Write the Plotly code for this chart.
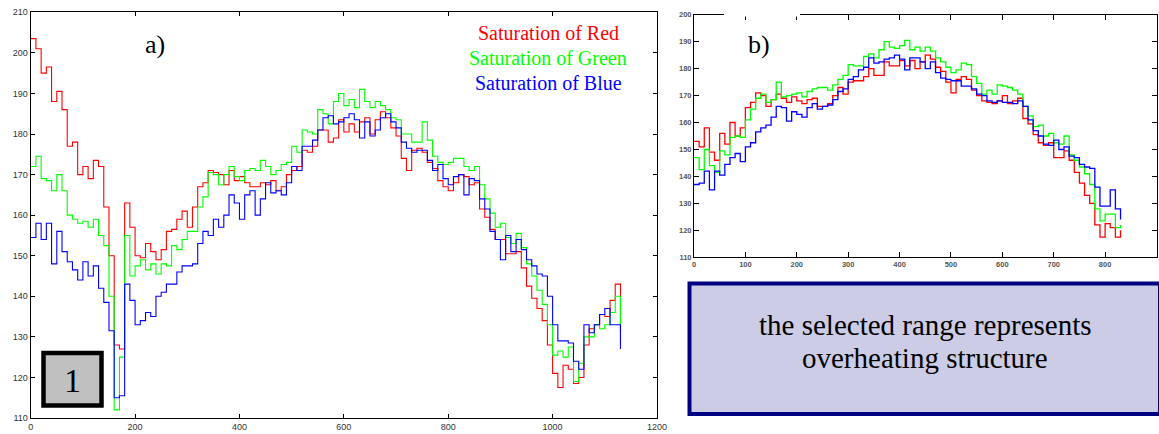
import plotly.graph_objects as go

W, H = 1159, 434

# ---------------- data: chart a) (sampled every 10 units) ----------------
a_x = list(range(0, 1140, 10))
a_red = [203.5, 201, 195, 196.5, 188, 190.5, 186, 177, 178, 170,
         172, 169, 173.5, 172, 162, 150, 128, 127, 163, 157,
         150, 149.5, 153, 151, 149, 151.5, 156, 156.5, 159, 161,
         157, 162, 167, 168, 171, 170.5, 170, 167.5, 171, 168.5,
         169.5, 168, 167, 167, 168, 167.5, 168.5, 166, 167, 170,
         171, 172, 176, 175.5, 177, 181, 181, 178, 179, 183.5,
         180.5, 182.5, 180.5, 183, 184, 180, 183.5, 185.5, 184, 181.5,
         179.5, 174, 171, 176, 176.5, 175.5, 173, 171.5, 168.5, 167,
         166, 168, 170, 169.5, 167.5, 168, 161.5, 159.5, 156.5, 154,
         154, 150.5, 150.5, 151, 147, 142.5, 139.5, 137, 134, 128,
         121, 117.5, 123, 122, 118.5, 120, 128, 132, 133, 135.5,
         135, 139, 143, 131]
a_green = [172, 174.5, 169, 168.5, 166, 170, 166, 160, 159, 158,
           158.5, 157, 159, 155, 152.5, 140, 112, 125, 155, 145,
           147.5, 149, 146.5, 148, 145.5, 148, 147.5, 152.5, 151.5, 154,
           156, 156, 162, 164.5, 170.5, 170, 167.5, 170, 172, 169.5,
           168.5, 171, 171.5, 171, 173.5, 172, 170, 171, 172.5, 173,
           177, 175.5, 181, 180.5, 180, 186, 185, 182.5, 188, 190,
           187, 188.5, 186.5, 191, 188, 186.5, 188, 187, 186, 184,
           183.5, 180, 180, 178, 178, 183, 178.5, 174.5, 173, 172.5,
           173, 174, 174, 172, 171, 172, 167.5, 164, 160.5, 157,
           158, 154.5, 153, 155.5, 152, 148, 145, 141.5, 138, 133,
           125.5, 126.5, 125, 127.5, 119, 123.5, 130, 130, 133, 132,
           133, 136, 140, 128]
a_blue = [154.5, 158, 154, 158, 148, 156, 151, 148.5, 146.5, 144,
          148.5, 145, 147.5, 142, 138.5, 131.5, 115, 115.5, 143, 139,
          133, 134, 136, 135, 140, 141, 143, 143, 146, 147.5,
          147.5, 148, 153, 156, 155, 159, 157, 160, 165, 163,
          159, 165, 166, 160, 164, 168, 165.5, 166, 165, 168,
          172, 171, 177, 177, 178.5, 181, 184, 184.5, 182.5, 183,
          184, 185, 183.5, 179, 183, 179.5, 181, 184, 185, 183,
          181.5, 178, 176.5, 175.5, 176, 176, 173.5, 171, 172.5, 169,
          167.5, 169.5, 170, 165, 169, 168.5, 164, 161.5, 156, 154,
          149, 155, 151, 154, 151.5, 149, 147.5, 145.5, 145, 140,
          133, 129, 129, 128.5, 124, 122, 133, 131, 133, 135.5,
          137, 133, 133, 127]

# ---------------- data: chart b) (sampled every 10 units) ----------------
b_x = list(range(0, 840, 10))
b_red = [153, 151, 158, 149, 146, 156, 152, 160, 155, 158,
         165.5, 167.5, 171, 170, 166, 168.5, 170.5, 169, 167.5, 169.5,
         168, 167, 168.5, 169, 166, 166, 167, 170, 173, 170.5,
         175, 175.5, 175.5, 177, 180, 177.5, 177.5, 182.5, 181, 181,
         183, 181, 183, 180, 182.5, 185, 183.5, 180.5, 179, 175,
         171, 176, 177, 176, 172, 170, 168, 167.5, 167, 168,
         170, 167, 168, 169, 161.5, 159.5, 155.5, 152.5, 151.5, 152.5,
         147, 147, 149.5, 146, 141.5, 137.5, 133, 130, 122, 117.5,
         122.5, 121, 117.5, 120]
b_green = [147, 142.5, 150, 144, 141.5, 149.5, 148, 154.5, 155, 154.5,
           161, 165, 169, 170.5, 167.5, 168.5, 175, 169.5, 170, 170.5,
           171, 169.5, 171.5, 172.5, 173, 173, 172, 174, 176, 177.5,
           181.5, 181, 181, 184.5, 185.5, 184, 187, 190, 188, 187.5,
           188.5, 190.5, 187, 188, 186.5, 188, 186.5, 184, 182.5, 180.5,
           178.5, 179.5, 182, 181.5, 177, 174.5, 170.5, 172, 170.5, 174,
           173.5, 173, 172, 170.5, 166, 162.5, 158.5, 159, 155, 156,
           152.5, 152, 155, 148, 146, 143.5, 141, 137, 128, 123.5,
           126, 126, 121, 122]
b_blue = [137, 137.5, 142, 135, 142, 140.5, 144.5, 147, 148.5, 145.5,
          151, 152.5, 156.5, 158, 159, 162, 166, 165.5, 160.5, 164,
          163, 162, 165.5, 167, 165, 166, 166.5, 168.5, 171.5, 172.5,
          176, 177, 179.5, 180.5, 184, 182, 182.5, 183.5, 184, 185,
          183.5, 179.5, 184, 184, 182.5, 180, 182.5, 178.5, 176.5, 176,
          175.5, 175.5, 173.5, 173.5, 172.5, 170.5, 170, 168, 167.5, 168,
          167.5, 167.5, 167, 168, 166, 161, 157, 155, 152, 151.5,
          153.5, 150, 151, 147.5, 147, 144.5, 143.5, 143, 136, 129,
          129, 135, 128, 124]

series_names = ["Saturation of Red", "Saturation of Green", "Saturation of Blue"]
series_colors = ["#ff0000", "#00ff00", "#0000ff"]
a_tickvals_y = list(range(110, 211, 10))
a_tickvals_x = list(range(0, 1201, 200))
b_tickvals_y = list(range(110, 201, 10))
b_tickvals_x = list(range(0, 901, 100))
note_lines = ["the selected range represents", "overheating structure"]


def px(x):
    return x / W


def py(y):
    return 1 - y / H


fig = go.Figure()
for ys, name, col in zip([a_red, a_green, a_blue], series_names, series_colors):
    fig.add_trace(go.Scatter(x=a_x, y=ys, mode="lines", name=name,
                             line=dict(color=col, width=1.1, shape="hv"),
                             xaxis="x", yaxis="y", showlegend=False))
for ys, name, col in zip([b_red, b_green, b_blue], series_names, series_colors):
    fig.add_trace(go.Scatter(x=b_x, y=ys, mode="lines", name=name,
                             line=dict(color=col, width=1.3, shape="hv"),
                             xaxis="x2", yaxis="y2", showlegend=False))

axis_common = dict(showline=True, linecolor="black", linewidth=1, mirror="ticks",
                   ticks="inside", tickcolor="black", showgrid=False, zeroline=False,
                   automargin=False)

fig.update_layout(
    width=W, height=H,
    margin=dict(l=0, r=0, t=0, b=0, autoexpand=False),
    paper_bgcolor="white", plot_bgcolor="white",
    xaxis=dict(domain=[px(30.7), px(657)], range=[0, 1200], tickvals=a_tickvals_x,
               ticklen=4, tickfont=dict(family="Arial", size=9, color="#333"),
               anchor="y", **axis_common),
    yaxis=dict(domain=[py(418), py(12.3)], range=[110, 210], tickvals=a_tickvals_y,
               ticklen=4, tickfont=dict(family="Arial", size=9, color="#333"),
               anchor="x", **axis_common),
    xaxis2=dict(domain=[px(694), px(1156.5)], range=[0, 900], tickvals=b_tickvals_x,
                ticklen=5, tickfont=dict(family="Arial", size=7.5, color="#555", weight="bold"),
                anchor="y2", **axis_common),
    yaxis2=dict(domain=[py(257.3), py(14.7)], range=[110, 200], tickvals=b_tickvals_y,
                ticklen=5, tickfont=dict(family="Arial", size=7.5, color="#555", weight="bold"),
                anchor="x2", **axis_common),
)

shapes = [
    # box "1"
    dict(type="rect", xref="paper", yref="paper", x0=px(43.5), x1=px(101.5),
         y0=py(405.5), y1=py(353), line=dict(color="black", width=4.5), fillcolor="#c0c0c0"),
    # note box
    dict(type="rect", xref="paper", yref="paper", x0=px(689.5), x1=px(1160),
         y0=py(414), y1=py(283.5), line=dict(color="#000080", width=4), fillcolor="#cccce6"),
    # white patch over top border of b)
    dict(type="rect", xref="paper", yref="paper", x0=px(724), x1=px(800),
         y0=py(16.5), y1=py(12.5), line=dict(width=0), fillcolor="white", layer="above"),
]
fig.update_layout(shapes=shapes)

serif = "Liberation Serif, Times New Roman, serif"
ann = [
    dict(x=px(155), y=py(45), text="a)", font=dict(family=serif, size=26, color="black")),
    dict(x=px(759), y=py(45), text="b)", font=dict(family=serif, size=26, color="black")),
    dict(x=px(72.5), y=py(380), text="1", font=dict(family=serif, size=34, color="black")),
    dict(x=px(548), y=py(33), text=series_names[0], font=dict(family=serif, size=20, color=series_colors[0])),
    dict(x=px(548), y=py(58.5), text=series_names[1], font=dict(family=serif, size=20, color=series_colors[1])),
    dict(x=px(548), y=py(83), text=series_names[2], font=dict(family=serif, size=20, color=series_colors[2])),
    dict(x=px(925), y=py(325), text=note_lines[0], font=dict(family=serif, size=29, color="black")),
    dict(x=px(925), y=py(357.5), text=note_lines[1], font=dict(family=serif, size=29, color="black")),
]
for a in ann:
    a.update(xref="paper", yref="paper", showarrow=False, xanchor="center", yanchor="middle")
fig.update_layout(annotations=ann)

fig.write_html("out.html",
               config={"displayModeBar": False},
               post_script="document.body.style.margin='0';document.body.style.overflow='hidden';")
